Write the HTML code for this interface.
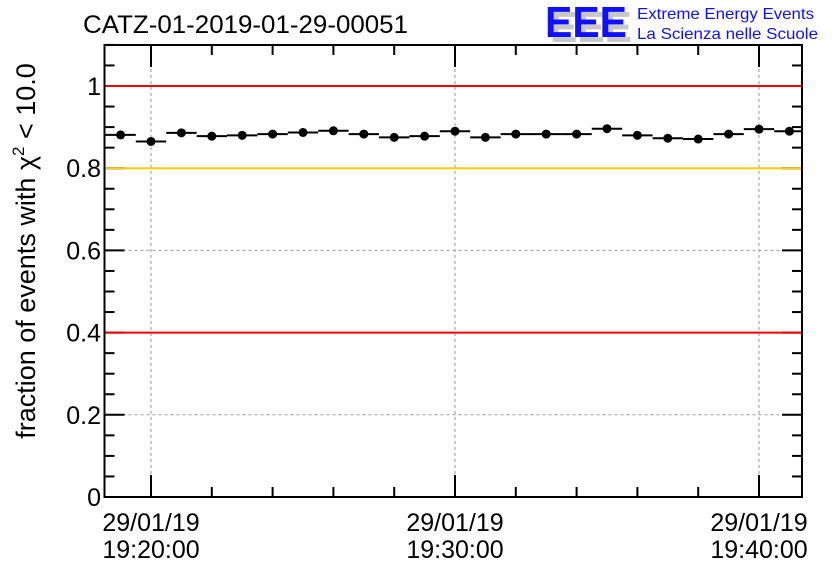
<!DOCTYPE html>
<html><head><meta charset="utf-8"><style>
body{margin:0;background:#fff;}
svg{display:block;font-family:"Liberation Sans",sans-serif;}
</style></head><body>
<svg width="836" height="572" viewBox="0 0 836 572">
<g id="grid"></g>
<g id="axes"></g>
<g id="refs"></g>
<g id="marks"></g>
<rect x="104.5" y="45" width="697.5" height="452" fill="none" stroke="#000" stroke-width="2"/>
<text x="83" y="33" font-size="25" textLength="325" lengthAdjust="spacingAndGlyphs">CATZ-01-2019-01-29-00051</text>
<g>
<text x="550" y="42" font-size="44" font-weight="bold" fill="#c8c8c8" textLength="82" lengthAdjust="spacingAndGlyphs">EEE</text>
<text x="545" y="37" font-size="44" font-weight="bold" fill="#1010ff" textLength="82" lengthAdjust="spacingAndGlyphs">EEE</text>
<text x="637" y="19" font-size="16" fill="#1010ff" textLength="177" lengthAdjust="spacingAndGlyphs">Extreme Energy Events</text>
<text x="637" y="39" font-size="16" fill="#1010ff" textLength="181" lengthAdjust="spacingAndGlyphs">La Scienza nelle Scuole</text>
</g>
<text transform="translate(35,251) rotate(-90)" text-anchor="middle" font-size="27">fraction of events with χ<tspan font-size="17" dy="-11">2</tspan><tspan dy="11"> &lt; 10.0</tspan></text>
</svg>
<script>
const minutes=[-1,0,1,2,3,4,5,6,7,8,9,10,11,12,13,14,15,16,17,18,19,20,21];
const values=[0.881,0.865,0.886,0.878,0.880,0.883,0.887,0.891,0.883,0.875,0.878,0.890,0.875,0.883,0.883,0.883,0.896,0.880,0.873,0.871,0.883,0.895,0.890];
const yTicks=[0,0.2,0.4,0.6,0.8,1];
const yTickLabels=["0","0.2","0.4","0.6","0.8","1"];
const xMajor=[0,10,20];
const xLabelDate=["29/01/19","29/01/19","29/01/19"];
const xLabelTime=["19:20:00","19:30:00","19:40:00"];
const refLines=[1,0.8,0.4];
const refColors=["#ff0000","#ffcc00","#ff0000"];
const NS="http://www.w3.org/2000/svg";
const X0=104.5,X1=802,Y0=497,Y1=45;
const xs=m=>151+m*30.4;
const ys=v=>Y0-v*411;
function mk(tag,attrs,parent){const e=document.createElementNS(NS,tag);for(const k in attrs)e.setAttribute(k,attrs[k]);parent.appendChild(e);return e;}
const grid=document.getElementById('grid'),refs=document.getElementById('refs'),marks=document.getElementById('marks'),axes=document.getElementById('axes');
xMajor.forEach(m=>{const l=mk('line',{x1:xs(m),x2:xs(m),y1:Y1,y2:Y0,stroke:'#999','stroke-dasharray':'3,3'},grid);

});
yTicks.forEach(v=>{if(v>0&&v<1){const l=mk('line',{x1:X0,x2:X1,y1:ys(v),y2:ys(v),stroke:'#999','stroke-dasharray':'3,3'},grid);

}});
refLines.forEach((v,i)=>{const l=mk('line',{x1:X0,x2:X1,y1:ys(v),y2:ys(v),stroke:refColors[i],'stroke-width':2},refs);

});
minutes.forEach((m,i)=>{const g=mk('g',{},marks);


mk('line',{x1:Math.max(X0,xs(m-0.5)),x2:Math.min(X1,xs(m+0.5)),y1:ys(values[i]),y2:ys(values[i]),stroke:'#000','stroke-width':2},g);
mk('circle',{cx:xs(m),cy:ys(values[i]),r:4.5,fill:'#000'},g);});
for(let k=0;k<=22;k++){const v=k*0.05,y=ys(v),len=(k%4==0)?20:10;
mk('line',{x1:X0,x2:X0+len,y1:y,y2:y,stroke:'#000','stroke-width':2},axes);
mk('line',{x1:X1-len,x2:X1,y1:y,y2:y,stroke:'#000','stroke-width':2},axes);}
yTicks.forEach((v,i)=>{const t=mk('text',{x:101,y:ys(v)+9,'text-anchor':'end','font-size':25},axes);t.textContent=yTickLabels[i];

});
for(let m=0;m<=22;m+=2){const x=xs(m);if(x>X1)break;const len=(m%10==0)?22:10;
mk('line',{x1:x,x2:x,y1:Y0,y2:Y0-len,stroke:'#000','stroke-width':2},axes);
mk('line',{x1:x,x2:x,y1:Y1,y2:Y1+len,stroke:'#000','stroke-width':2},axes);}
xMajor.forEach((m,i)=>{const t1=mk('text',{x:xs(m),y:531,'text-anchor':'middle','font-size':25},axes);t1.textContent=xLabelDate[i];


const t2=mk('text',{x:xs(m),y:558,'text-anchor':'middle','font-size':25},axes);t2.textContent=xLabelTime[i];

});
</script>
</body></html>
